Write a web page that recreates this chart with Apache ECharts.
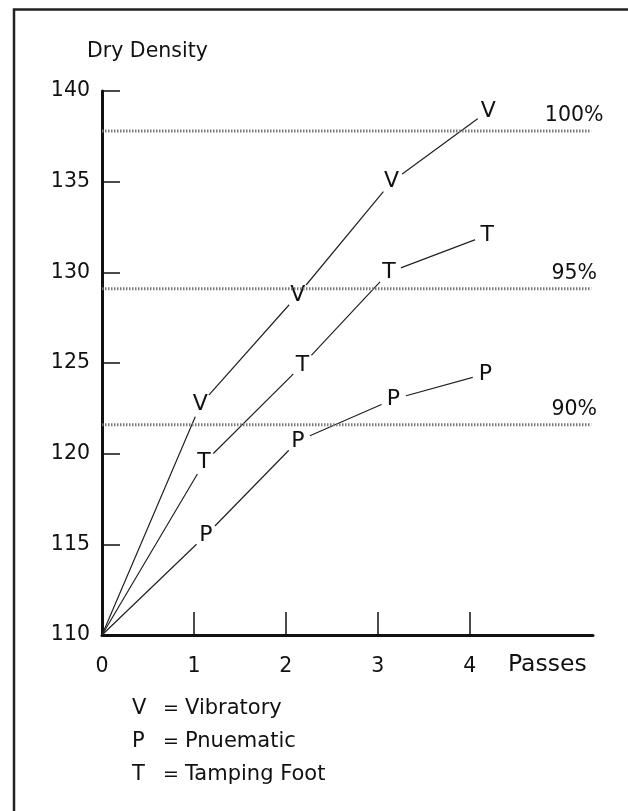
<!DOCTYPE html>
<html><head><meta charset="utf-8">
<script src="https://cdn.jsdelivr.net/npm/echarts@6/dist/echarts.min.js"></script>
<style>html,body{margin:0;padding:0;background:#fff}#c{width:628px;height:811px}</style>
</head><body><div id="c"></div>
<script>
// ---- data ----
const passesV = [0, 1.07, 2.13, 3.15, 4.2];
const densityV = [110, 122.7, 128.75, 135.0, 138.9];
const passesT = [0, 1.11, 2.18, 3.12, 4.19];
const densityT = [110, 119.5, 124.9, 130.0, 132.05];
const passesP = [0, 1.13, 2.13, 3.17, 4.17];
const densityP = [110, 115.5, 120.7, 123.0, 124.4];
const refValues = [137.8, 129.1, 121.6];
const refLabels = ['100%', '95%', '90%'];
const xTickValues = [0, 1, 2, 3, 4];
const xTickMarks = [1, 2, 3, 4];
const yMin = 110, yMax = 140, yStep = 5;
const xMax = 5.34, refEnd = 5.32;
const legendLetters = ['V', 'P', 'T'];
const legendNames = ['Vibratory', 'Pnuematic', 'Tamping Foot'];
const yTitle = 'Dry Density';
const xTitle = 'Passes';

const FF = '"DejaVu Sans", "Liberation Sans", sans-serif';
const INK = '#111';

function dataSeries(letter, xs, ys) {
  return {
    type: 'line', z: 2, silent: true, animation: false,
    data: xs.map((x, i) => i === 0
      ? { value: [x, ys[i]], symbol: 'none', label: { show: false } }
      : { value: [x, ys[i]] }),
    symbol: 'circle', symbolSize: 26,
    itemStyle: { color: '#fff', borderWidth: 0 },
    lineStyle: { color: '#222', width: 1.2 },
    label: { show: true, position: 'inside', formatter: letter, color: INK, fontFamily: FF, fontSize: 22 }
  };
}

function refSeries(v, lbl) {
  return {
    type: 'line', z: 3, silent: true, animation: false,
    data: [[0, v], { value: [refEnd, v], label: { show: true } }],
    symbol: 'circle', symbolSize: 1,
    itemStyle: { color: 'rgba(0,0,0,0)' },
    lineStyle: { color: '#7a7a7a', width: 3, type: [1.5, 1.5] },
    label: { show: false, position: 'top', distance: 4, offset: [-17, 0], formatter: lbl,
             fontFamily: FF, fontSize: 20.5, color: INK }
  };
}

const graphics = [
  { type: 'polyline', shape: { points: [[14, 811], [14, 9.5], [628, 9.5]] }, style: { stroke: '#222', lineWidth: 2.5, fill: null } },
  { type: 'text', x: 87, y: 52, style: { text: yTitle, fontFamily: FF, fontSize: 20.5, fill: INK, verticalAlign: 'middle', textVerticalAlign: 'middle' } },
  { type: 'text', x: 508, y: 665, style: { text: xTitle, fontFamily: FF, fontSize: 23.5, fill: INK, verticalAlign: 'middle', textVerticalAlign: 'middle' } }
];
const legendY = [709, 742, 775];
legendLetters.forEach((l, i) => {
  graphics.push({ type: 'text', x: 132, y: legendY[i], style: { text: l, fontFamily: FF, fontSize: 21, fill: INK, verticalAlign: 'middle', textVerticalAlign: 'middle' } });
  graphics.push({ type: 'text', x: 163, y: legendY[i], style: { text: '=', fontFamily: FF, fontSize: 19, fill: INK, verticalAlign: 'middle', textVerticalAlign: 'middle' } });
  graphics.push({ type: 'text', x: 185, y: legendY[i], style: { text: legendNames[i], fontFamily: FF, fontSize: 21, fill: INK, verticalAlign: 'middle', textVerticalAlign: 'middle' } });
});

const chart = echarts.init(document.getElementById('c'), null, { renderer: 'canvas' });
chart.setOption({
  animation: false,
  backgroundColor: '#fff',
  grid: { left: 102, right: 35, top: 91, bottom: 176, containLabel: false },
  xAxis: {
    type: 'value', min: 0, max: xMax,
    axisLine: { show: true, onZero: false, lineStyle: { color: INK, width: 3 } },
    axisTick: { show: true, inside: true, length: 23, customValues: xTickMarks, lineStyle: { color: INK, width: 1.5 } },
    axisLabel: { show: true, customValues: xTickValues, margin: 21, fontFamily: FF, fontSize: 20.5, color: INK },
    splitLine: { show: false }
  },
  yAxis: {
    type: 'value', min: yMin, max: yMax, interval: yStep,
    axisLine: { show: true, onZero: false, lineStyle: { color: INK, width: 3 } },
    axisTick: { show: true, inside: true, length: 18, lineStyle: { color: INK, width: 1.5 } },
    axisLabel: { show: true, margin: 12, fontFamily: FF, fontSize: 20.5, color: INK },
    splitLine: { show: false }
  },
  series: [
    dataSeries('V', passesV, densityV),
    dataSeries('T', passesT, densityT),
    dataSeries('P', passesP, densityP),
    ...refValues.map((v, i) => refSeries(v, refLabels[i]))
  ],
  graphic: graphics
});
</script>
</body></html>
